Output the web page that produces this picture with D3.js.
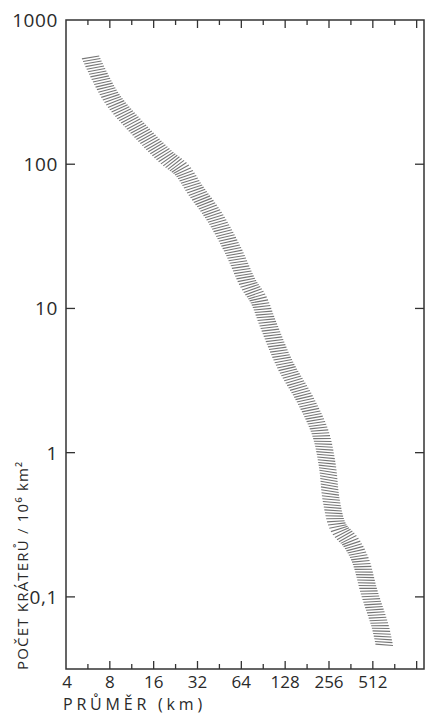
<!DOCTYPE html>
<html>
<head>
<meta charset="utf-8">
<script src="https://cdn.jsdelivr.net/npm/d3@7"></script>
<style>
  html, body { margin: 0; padding: 0; background: #fff; }
  svg { display: block; }
  text { font-family: "Open Sans", "DejaVu Sans", sans-serif; fill: #2a2a2a; }
</style>
</head>
<body>
<svg id="chart" width="427" height="714"></svg>
<script>
// Diameter (km) along the band centre
const diameters   = [5.9, 8.2, 12.7, 19.5, 25, 31, 42, 56, 71, 84, 98, 128, 176, 223, 249, 265, 296, 364, 420, 484, 576, 613];
// Number of craters per 10^6 km^2 along the band centre
const craterCounts = [550, 290, 173, 112, 91, 66, 43, 25.4, 15, 11.5, 7.7, 4.06, 2.32, 1.37, 0.82, 0.47, 0.305, 0.237, 0.18, 0.107, 0.062, 0.0465];

const xTickLabels = ["4", "8", "16", "32", "64", "128", "256", "512"];
const xTickValues = [4, 8, 16, 32, 64, 128, 256, 512];
const yTickValues = [1000, 100, 10, 1, 0.1];
const yTickLabels = ["1000", "100", "10", "1", "0,1"];
const xTitle = "PRŮMĚR (km)";
const yTitle = "POČET KRÁTERŮ / 10⁶ km²";

const svg = d3.select("#chart");
const L = 66, R = 424, T = 20, B = 669;

const x = d3.scaleLog().base(2).domain([4, 1150]).range([L, R]);
const y = d3.scaleLog().domain([Math.pow(10, -1.5), 1000]).range([B, T]);

// band centre line (geometry only)
const line = d3.line()
  .x((d, i) => x(diameters[i]))
  .y((d, i) => y(craterCounts[i]))
  .curve(d3.curveCatmullRom.alpha(0.5));

const guide = svg.append("path")
  .datum(diameters)
  .attr("d", line)
  .attr("fill", "none")
  .attr("stroke", "none");

// hand-style hatching across the band
const node = guide.node();
const total = node.getTotalLength();
const bandW = 17, step = 2.8, rot = 15 * Math.PI / 180;
const hatch = svg.append("g").attr("stroke", "#767676").attr("stroke-width", 1.1);
for (let s = 0; s <= total; s += step) {
  const a = node.getPointAtLength(Math.max(0, s - 1.5));
  const b = node.getPointAtLength(Math.min(total, s + 1.5));
  const p = node.getPointAtLength(s);
  let tx = b.x - a.x, ty = b.y - a.y;
  const n0 = Math.hypot(tx, ty) || 1;
  tx /= n0; ty /= n0;
  let nx = ty, ny = -tx;
  const rx = nx * Math.cos(rot) - ny * Math.sin(rot);
  const ry = nx * Math.sin(rot) + ny * Math.cos(rot);
  const half = bandW / 2 / Math.cos(rot);
  hatch.append("line")
    .attr("x1", p.x - rx * half).attr("y1", p.y - ry * half)
    .attr("x2", p.x + rx * half).attr("y2", p.y + ry * half);
}

// frame
svg.append("rect")
  .attr("x", L).attr("y", T).attr("width", R - L).attr("height", B - T)
  .attr("fill", "none").attr("stroke", "#333").attr("stroke-width", 1.5);

// x ticks every half octave
const halfOct = d3.range(1, 17).map(k => 4 * Math.pow(2, k / 2));
halfOct.forEach((v, k) => {
  const long = (k % 2 === 1);
  const len = long ? 8 : 5;
  const px = x(v);
  if (px >= R - 1) return;
  svg.append("line").attr("x1", px).attr("x2", px).attr("y1", B).attr("y2", B - len)
    .attr("stroke", "#333").attr("stroke-width", 1.3);
  svg.append("line").attr("x1", px).attr("x2", px).attr("y1", T).attr("y2", T + len)
    .attr("stroke", "#333").attr("stroke-width", 1.3);
});

// y ticks
yTickValues.forEach(v => {
  const py = y(v);
  if (v !== 1000) {
    svg.append("line").attr("x1", L).attr("x2", L + 9).attr("y1", py).attr("y2", py)
      .attr("stroke", "#333").attr("stroke-width", 1.3);
    svg.append("line").attr("x1", R).attr("x2", R - 9).attr("y1", py).attr("y2", py)
      .attr("stroke", "#333").attr("stroke-width", 1.3);
  }
});

// y tick labels
svg.selectAll(".ylab").data(yTickValues).enter().append("text")
  .attr("class", "ylab")
  .attr("x", L - 8)
  .attr("y", d => y(d))
  .attr("dy", "0.36em")
  .attr("text-anchor", "end")
  .attr("font-size", 19)
  .attr("letter-spacing", 0.6)
  .text((d, i) => yTickLabels[i]);

// x tick labels
svg.selectAll(".xlab").data(xTickValues).enter().append("text")
  .attr("class", "xlab")
  .attr("x", d => x(d) + (d === 4 ? 1 : 0))
  .attr("y", 688)
  .attr("text-anchor", "middle")
  .attr("font-size", 17)
  .text((d, i) => xTickLabels[i]);

// axis titles
svg.append("text")
  .attr("x", 63).attr("y", 710)
  .attr("font-size", 16)
  .attr("letter-spacing", 3.8)
  .text(xTitle);

svg.append("text")
  .attr("transform", "translate(28,670) rotate(-90)")
  .attr("font-size", 15)
  .attr("letter-spacing", 1.2)
  .text(yTitle);
</script>
</body>
</html>
